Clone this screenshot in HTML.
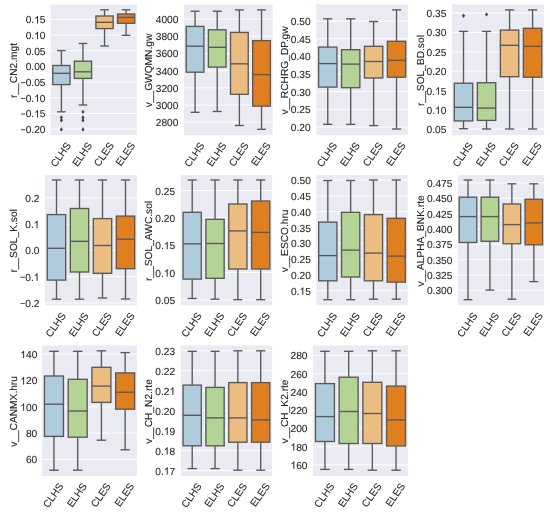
<!DOCTYPE html>
<html><head><meta charset="utf-8"><style>
html,body{margin:0;padding:0;background:#fff;}
body{width:550px;height:516px;overflow:hidden;}
svg{display:block;}
#w{width:550px;height:516px;will-change:transform;}
.o{fill:#262626;stroke:#262626;stroke-width:0.1px;}
.t{font-family:"Liberation Sans",sans-serif;font-size:10.2px;fill:#262626;stroke:#262626;stroke-width:0.1px;text-rendering:geometricPrecision;}
</style></head><body><div id="w">
<svg width="550" height="516" viewBox="0 0 550 516">
<g>
<rect x="0" y="0" width="550" height="516" fill="#ffffff"/>
<rect x="50.6" y="4.4" width="86.3" height="130.8" fill="#EAEAF2"/>
<line x1="50.6" x2="136.9" y1="19.4" y2="19.4" stroke="#fff" stroke-width="1.0"/>
<line x1="50.6" x2="136.9" y1="35.07" y2="35.07" stroke="#fff" stroke-width="1.0"/>
<line x1="50.6" x2="136.9" y1="50.74" y2="50.74" stroke="#fff" stroke-width="1.0"/>
<line x1="50.6" x2="136.9" y1="66.41" y2="66.41" stroke="#fff" stroke-width="1.0"/>
<line x1="50.6" x2="136.9" y1="82.09" y2="82.09" stroke="#fff" stroke-width="1.0"/>
<line x1="50.6" x2="136.9" y1="97.76" y2="97.76" stroke="#fff" stroke-width="1.0"/>
<line x1="50.6" x2="136.9" y1="113.43" y2="113.43" stroke="#fff" stroke-width="1.0"/>
<line x1="50.6" x2="136.9" y1="129.1" y2="129.1" stroke="#fff" stroke-width="1.0"/>
<g stroke="#595959" stroke-width="1.35" fill="none"><line x1="61.39" x2="61.39" y1="50.6" y2="65.5"/><line x1="61.39" x2="61.39" y1="84.6" y2="111.8"/><line x1="57.07" x2="65.7" y1="50.6" y2="50.6"/><line x1="57.07" x2="65.7" y1="111.8" y2="111.8"/><rect x="52.76" y="65.5" width="17.26" height="19.1" fill="#aeccdb"/><line x1="52.76" x2="70.02" y1="73.3" y2="73.3"/><path d="M61.39 115.2L62.99 117.4L61.39 119.6L59.79 117.4Z" fill="#454545" stroke="none"/><path d="M61.39 118.1L62.99 120.3L61.39 122.5L59.79 120.3Z" fill="#454545" stroke="none"/><path d="M61.39 127.3L62.99 129.5L61.39 131.7L59.79 129.5Z" fill="#454545" stroke="none"/></g>
<g stroke="#595959" stroke-width="1.35" fill="none"><line x1="82.96" x2="82.96" y1="43.5" y2="61.2"/><line x1="82.96" x2="82.96" y1="78.4" y2="105"/><line x1="78.65" x2="87.28" y1="43.5" y2="43.5"/><line x1="78.65" x2="87.28" y1="105" y2="105"/><rect x="74.33" y="61.2" width="17.26" height="17.2" fill="#b3d495"/><line x1="74.33" x2="91.59" y1="71.8" y2="71.8"/><path d="M82.96 109.7L84.56 111.9L82.96 114.1L81.36 111.9Z" fill="#454545" stroke="none"/><path d="M82.96 115.2L84.56 117.4L82.96 119.6L81.36 117.4Z" fill="#454545" stroke="none"/><path d="M82.96 118.1L84.56 120.3L82.96 122.5L81.36 120.3Z" fill="#454545" stroke="none"/><path d="M82.96 127.3L84.56 129.5L82.96 131.7L81.36 129.5Z" fill="#454545" stroke="none"/></g>
<g stroke="#595959" stroke-width="1.35" fill="none"><line x1="104.54" x2="104.54" y1="9.8" y2="16"/><line x1="104.54" x2="104.54" y1="28.6" y2="46"/><line x1="100.22" x2="108.85" y1="9.8" y2="9.8"/><line x1="100.22" x2="108.85" y1="46" y2="46"/><rect x="95.91" y="16" width="17.26" height="12.6" fill="#ebbd81"/><line x1="95.91" x2="113.17" y1="22.3" y2="22.3"/></g>
<g stroke="#595959" stroke-width="1.35" fill="none"><line x1="126.11" x2="126.11" y1="9.8" y2="14"/><line x1="126.11" x2="126.11" y1="23.3" y2="35.3"/><line x1="121.8" x2="130.43" y1="9.8" y2="9.8"/><line x1="121.8" x2="130.43" y1="35.3" y2="35.3"/><rect x="117.48" y="14" width="17.26" height="9.3" fill="#df7f20"/><line x1="117.48" x2="134.74" y1="17.4" y2="17.4"/></g>
<text x="45.5" y="23.4" text-anchor="end" class="t">0. 5</text>
<path d="M37.95 23.4L37.95 16.1L37.23 16.1L36.94 16.73L36.55 17.11L36.01 17.56L35.27 17.91L35.27 18.77L35.8 18.54L36.35 18.22L36.73 18L37.06 17.69L37.06 23.4Z" class="o"/>
<text x="45.5" y="39.07" text-anchor="end" class="t">0. 0</text>
<path d="M37.95 39.07L37.95 31.77L37.23 31.77L36.94 32.4L36.55 32.79L36.01 33.23L35.27 33.58L35.27 34.44L35.8 34.22L36.35 33.89L36.73 33.67L37.06 33.36L37.06 39.07Z" class="o"/>
<text x="45.5" y="54.74" text-anchor="end" class="t">0.05</text>
<text x="45.5" y="70.41" text-anchor="end" class="t">0.00</text>
<rect x="21.02" y="82.33" width="4.28" height="0.72" class="o"/>
<text x="45.5" y="86.09" text-anchor="end" class="t">0.05</text>
<rect x="21.02" y="98" width="4.28" height="0.72" class="o"/>
<text x="45.5" y="101.76" text-anchor="end" class="t">0. 0</text>
<path d="M37.95 101.76L37.95 94.46L37.23 94.46L36.94 95.08L36.55 95.47L36.01 95.92L35.27 96.26L35.27 97.13L35.8 96.9L36.35 96.58L36.73 96.35L37.06 96.04L37.06 101.76Z" class="o"/>
<rect x="21.02" y="113.67" width="4.28" height="0.72" class="o"/>
<text x="45.5" y="117.43" text-anchor="end" class="t">0. 5</text>
<path d="M37.95 117.43L37.95 110.13L37.23 110.13L36.94 110.75L36.55 111.14L36.01 111.59L35.27 111.94L35.27 112.8L35.8 112.57L36.35 112.25L36.73 112.02L37.06 111.72L37.06 117.43Z" class="o"/>
<rect x="21.02" y="129.35" width="4.28" height="0.72" class="o"/>
<text x="45.5" y="133.1" text-anchor="end" class="t">0.20</text>
<text x="0" y="0" transform="translate(16.74 70.5) rotate(-90)" text-anchor="middle" class="t">r__CN2.mgt</text>
<text x="0" y="2.6" transform="translate(61.39 155.06) rotate(-55)" text-anchor="middle" class="t">CLHS</text>
<text x="0" y="2.6" transform="translate(82.96 154.83) rotate(-55)" text-anchor="middle" class="t">ELHS</text>
<text x="0" y="2.6" transform="translate(104.54 154.83) rotate(-55)" text-anchor="middle" class="t">CLES</text>
<text x="0" y="2.6" transform="translate(126.11 154.6) rotate(-55)" text-anchor="middle" class="t">ELES</text>
<rect x="184" y="4.4" width="88.6" height="130.8" fill="#EAEAF2"/>
<line x1="184" x2="272.6" y1="19.1" y2="19.1" stroke="#fff" stroke-width="1.0"/>
<line x1="184" x2="272.6" y1="36.28" y2="36.28" stroke="#fff" stroke-width="1.0"/>
<line x1="184" x2="272.6" y1="53.47" y2="53.47" stroke="#fff" stroke-width="1.0"/>
<line x1="184" x2="272.6" y1="70.65" y2="70.65" stroke="#fff" stroke-width="1.0"/>
<line x1="184" x2="272.6" y1="87.83" y2="87.83" stroke="#fff" stroke-width="1.0"/>
<line x1="184" x2="272.6" y1="105.02" y2="105.02" stroke="#fff" stroke-width="1.0"/>
<line x1="184" x2="272.6" y1="122.2" y2="122.2" stroke="#fff" stroke-width="1.0"/>
<g stroke="#595959" stroke-width="1.35" fill="none"><line x1="195.07" x2="195.07" y1="11.2" y2="26.4"/><line x1="195.07" x2="195.07" y1="72.2" y2="112.3"/><line x1="190.64" x2="199.5" y1="11.2" y2="11.2"/><line x1="190.64" x2="199.5" y1="112.3" y2="112.3"/><rect x="186.21" y="26.4" width="17.72" height="45.8" fill="#aeccdb"/><line x1="186.21" x2="203.94" y1="46.2" y2="46.2"/></g>
<g stroke="#595959" stroke-width="1.35" fill="none"><line x1="217.23" x2="217.23" y1="11.2" y2="29.8"/><line x1="217.23" x2="217.23" y1="67.1" y2="111.5"/><line x1="212.8" x2="221.66" y1="11.2" y2="11.2"/><line x1="212.8" x2="221.66" y1="111.5" y2="111.5"/><rect x="208.37" y="29.8" width="17.72" height="37.3" fill="#b3d495"/><line x1="208.37" x2="226.09" y1="47.3" y2="47.3"/></g>
<g stroke="#595959" stroke-width="1.35" fill="none"><line x1="239.38" x2="239.38" y1="9.9" y2="32.4"/><line x1="239.38" x2="239.38" y1="94.3" y2="125.5"/><line x1="234.94" x2="243.81" y1="9.9" y2="9.9"/><line x1="234.94" x2="243.81" y1="125.5" y2="125.5"/><rect x="230.51" y="32.4" width="17.72" height="61.9" fill="#ebbd81"/><line x1="230.51" x2="248.24" y1="63.8" y2="63.8"/></g>
<g stroke="#595959" stroke-width="1.35" fill="none"><line x1="261.53" x2="261.53" y1="9.9" y2="40.6"/><line x1="261.53" x2="261.53" y1="106.1" y2="129.3"/><line x1="257.1" x2="265.96" y1="9.9" y2="9.9"/><line x1="257.1" x2="265.96" y1="129.3" y2="129.3"/><rect x="252.67" y="40.6" width="17.72" height="65.5" fill="#df7f20"/><line x1="252.67" x2="270.39" y1="74.6" y2="74.6"/></g>
<text x="178.4" y="23.1" text-anchor="end" class="t">4000</text>
<text x="178.4" y="40.28" text-anchor="end" class="t">3800</text>
<text x="178.4" y="57.47" text-anchor="end" class="t">3600</text>
<text x="178.4" y="74.65" text-anchor="end" class="t">3400</text>
<text x="178.4" y="91.83" text-anchor="end" class="t">3200</text>
<text x="178.4" y="109.02" text-anchor="end" class="t">3000</text>
<text x="178.4" y="126.2" text-anchor="end" class="t">2800</text>
<text x="0" y="0" transform="translate(151.94 70.5) rotate(-90)" text-anchor="middle" class="t">v__GWQMN.gw</text>
<text x="0" y="2.6" transform="translate(195.07 155.06) rotate(-55)" text-anchor="middle" class="t">CLHS</text>
<text x="0" y="2.6" transform="translate(217.23 154.83) rotate(-55)" text-anchor="middle" class="t">ELHS</text>
<text x="0" y="2.6" transform="translate(239.38 154.83) rotate(-55)" text-anchor="middle" class="t">CLES</text>
<text x="0" y="2.6" transform="translate(261.53 154.6) rotate(-55)" text-anchor="middle" class="t">ELES</text>
<rect x="316.3" y="4.4" width="91.7" height="130.8" fill="#EAEAF2"/>
<line x1="316.3" x2="408" y1="21.1" y2="21.1" stroke="#fff" stroke-width="1.0"/>
<line x1="316.3" x2="408" y1="38.75" y2="38.75" stroke="#fff" stroke-width="1.0"/>
<line x1="316.3" x2="408" y1="56.4" y2="56.4" stroke="#fff" stroke-width="1.0"/>
<line x1="316.3" x2="408" y1="74.05" y2="74.05" stroke="#fff" stroke-width="1.0"/>
<line x1="316.3" x2="408" y1="91.7" y2="91.7" stroke="#fff" stroke-width="1.0"/>
<line x1="316.3" x2="408" y1="109.35" y2="109.35" stroke="#fff" stroke-width="1.0"/>
<line x1="316.3" x2="408" y1="127" y2="127" stroke="#fff" stroke-width="1.0"/>
<g stroke="#595959" stroke-width="1.35" fill="none"><line x1="327.76" x2="327.76" y1="18.8" y2="47.1"/><line x1="327.76" x2="327.76" y1="87.1" y2="124.3"/><line x1="323.18" x2="332.35" y1="18.8" y2="18.8"/><line x1="323.18" x2="332.35" y1="124.3" y2="124.3"/><rect x="318.59" y="47.1" width="18.34" height="40" fill="#aeccdb"/><line x1="318.59" x2="336.93" y1="63.6" y2="63.6"/></g>
<g stroke="#595959" stroke-width="1.35" fill="none"><line x1="350.69" x2="350.69" y1="18.8" y2="49.7"/><line x1="350.69" x2="350.69" y1="87.7" y2="124.4"/><line x1="346.1" x2="355.27" y1="18.8" y2="18.8"/><line x1="346.1" x2="355.27" y1="124.4" y2="124.4"/><rect x="341.52" y="49.7" width="18.34" height="38" fill="#b3d495"/><line x1="341.52" x2="359.86" y1="64.1" y2="64.1"/></g>
<g stroke="#595959" stroke-width="1.35" fill="none"><line x1="373.61" x2="373.61" y1="21.5" y2="46.3"/><line x1="373.61" x2="373.61" y1="78" y2="125.6"/><line x1="369.03" x2="378.2" y1="21.5" y2="21.5"/><line x1="369.03" x2="378.2" y1="125.6" y2="125.6"/><rect x="364.44" y="46.3" width="18.34" height="31.7" fill="#ebbd81"/><line x1="364.44" x2="382.78" y1="61.5" y2="61.5"/></g>
<g stroke="#595959" stroke-width="1.35" fill="none"><line x1="396.54" x2="396.54" y1="9.9" y2="41.3"/><line x1="396.54" x2="396.54" y1="77.2" y2="129"/><line x1="391.95" x2="401.12" y1="9.9" y2="9.9"/><line x1="391.95" x2="401.12" y1="129" y2="129"/><rect x="387.37" y="41.3" width="18.34" height="35.9" fill="#df7f20"/><line x1="387.37" x2="405.71" y1="60.4" y2="60.4"/></g>
<text x="310.7" y="25.1" text-anchor="end" class="t">0.50</text>
<text x="310.7" y="42.75" text-anchor="end" class="t">0.45</text>
<text x="310.7" y="60.4" text-anchor="end" class="t">0.40</text>
<text x="310.7" y="78.05" text-anchor="end" class="t">0.35</text>
<text x="310.7" y="95.7" text-anchor="end" class="t">0.30</text>
<text x="310.7" y="113.35" text-anchor="end" class="t">0.25</text>
<text x="310.7" y="131" text-anchor="end" class="t">0.20</text>
<text x="0" y="0" transform="translate(287.64 70.5) rotate(-90)" text-anchor="middle" class="t">v__RCHRG_DP.gw</text>
<text x="0" y="2.6" transform="translate(327.76 155.06) rotate(-55)" text-anchor="middle" class="t">CLHS</text>
<text x="0" y="2.6" transform="translate(350.69 154.83) rotate(-55)" text-anchor="middle" class="t">ELHS</text>
<text x="0" y="2.6" transform="translate(373.61 154.83) rotate(-55)" text-anchor="middle" class="t">CLES</text>
<text x="0" y="2.6" transform="translate(396.54 154.6) rotate(-55)" text-anchor="middle" class="t">ELES</text>
<rect x="452" y="4.4" width="92.1" height="130.8" fill="#EAEAF2"/>
<line x1="452" x2="544.1" y1="13.1" y2="13.1" stroke="#fff" stroke-width="1.0"/>
<line x1="452" x2="544.1" y1="32.45" y2="32.45" stroke="#fff" stroke-width="1.0"/>
<line x1="452" x2="544.1" y1="51.8" y2="51.8" stroke="#fff" stroke-width="1.0"/>
<line x1="452" x2="544.1" y1="71.15" y2="71.15" stroke="#fff" stroke-width="1.0"/>
<line x1="452" x2="544.1" y1="90.5" y2="90.5" stroke="#fff" stroke-width="1.0"/>
<line x1="452" x2="544.1" y1="109.85" y2="109.85" stroke="#fff" stroke-width="1.0"/>
<line x1="452" x2="544.1" y1="129.2" y2="129.2" stroke="#fff" stroke-width="1.0"/>
<g stroke="#595959" stroke-width="1.35" fill="none"><line x1="463.51" x2="463.51" y1="31.4" y2="83.2"/><line x1="463.51" x2="463.51" y1="120.9" y2="128.7"/><line x1="458.91" x2="468.12" y1="31.4" y2="31.4"/><line x1="458.91" x2="468.12" y1="128.7" y2="128.7"/><rect x="454.3" y="83.2" width="18.42" height="37.7" fill="#aeccdb"/><line x1="454.3" x2="472.72" y1="107.3" y2="107.3"/><path d="M463.51 13.5L465.11 15.7L463.51 17.9L461.91 15.7Z" fill="#454545" stroke="none"/></g>
<g stroke="#595959" stroke-width="1.35" fill="none"><line x1="486.54" x2="486.54" y1="31.4" y2="82.7"/><line x1="486.54" x2="486.54" y1="120.4" y2="129"/><line x1="481.93" x2="491.14" y1="31.4" y2="31.4"/><line x1="481.93" x2="491.14" y1="129" y2="129"/><rect x="477.33" y="82.7" width="18.42" height="37.7" fill="#b3d495"/><line x1="477.33" x2="495.75" y1="108.1" y2="108.1"/><path d="M486.54 12.2L488.14 14.4L486.54 16.6L484.94 14.4Z" fill="#454545" stroke="none"/></g>
<g stroke="#595959" stroke-width="1.35" fill="none"><line x1="509.56" x2="509.56" y1="9.9" y2="30.1"/><line x1="509.56" x2="509.56" y1="76.7" y2="129"/><line x1="504.96" x2="514.17" y1="9.9" y2="9.9"/><line x1="504.96" x2="514.17" y1="129" y2="129"/><rect x="500.35" y="30.1" width="18.42" height="46.6" fill="#ebbd81"/><line x1="500.35" x2="518.77" y1="45.3" y2="45.3"/></g>
<g stroke="#595959" stroke-width="1.35" fill="none"><line x1="532.59" x2="532.59" y1="9.9" y2="28.3"/><line x1="532.59" x2="532.59" y1="77.2" y2="129"/><line x1="527.98" x2="537.19" y1="9.9" y2="9.9"/><line x1="527.98" x2="537.19" y1="129" y2="129"/><rect x="523.38" y="28.3" width="18.42" height="48.9" fill="#df7f20"/><line x1="523.38" x2="541.8" y1="46.3" y2="46.3"/></g>
<text x="446.4" y="17.1" text-anchor="end" class="t">0.35</text>
<text x="446.4" y="36.45" text-anchor="end" class="t">0.30</text>
<text x="446.4" y="55.8" text-anchor="end" class="t">0.25</text>
<text x="446.4" y="75.15" text-anchor="end" class="t">0.20</text>
<text x="446.4" y="94.5" text-anchor="end" class="t">0. 5</text>
<path d="M438.85 94.5L438.85 87.2L438.13 87.2L437.84 87.83L437.45 88.21L436.91 88.66L436.17 89.01L436.17 89.87L436.7 89.64L437.25 89.32L437.63 89.1L437.96 88.79L437.96 94.5Z" class="o"/>
<text x="446.4" y="113.85" text-anchor="end" class="t">0. 0</text>
<path d="M438.85 113.85L438.85 106.55L438.13 106.55L437.84 107.18L437.45 107.56L436.91 108.01L436.17 108.36L436.17 109.22L436.7 108.99L437.25 108.67L437.63 108.45L437.96 108.14L437.96 113.85Z" class="o"/>
<text x="446.4" y="133.2" text-anchor="end" class="t">0.05</text>
<text x="0" y="0" transform="translate(423.54 70.5) rotate(-90)" text-anchor="middle" class="t">r__SOL_BD.sol</text>
<text x="0" y="2.6" transform="translate(463.51 155.06) rotate(-55)" text-anchor="middle" class="t">CLHS</text>
<text x="0" y="2.6" transform="translate(486.54 154.83) rotate(-55)" text-anchor="middle" class="t">ELHS</text>
<text x="0" y="2.6" transform="translate(509.56 154.83) rotate(-55)" text-anchor="middle" class="t">CLES</text>
<text x="0" y="2.6" transform="translate(532.59 154.6) rotate(-55)" text-anchor="middle" class="t">ELES</text>
<rect x="45" y="175" width="92" height="130.4" fill="#EAEAF2"/>
<line x1="45" x2="137" y1="197.9" y2="197.9" stroke="#fff" stroke-width="1.0"/>
<line x1="45" x2="137" y1="224.15" y2="224.15" stroke="#fff" stroke-width="1.0"/>
<line x1="45" x2="137" y1="250.4" y2="250.4" stroke="#fff" stroke-width="1.0"/>
<line x1="45" x2="137" y1="276.65" y2="276.65" stroke="#fff" stroke-width="1.0"/>
<line x1="45" x2="137" y1="302.9" y2="302.9" stroke="#fff" stroke-width="1.0"/>
<g stroke="#595959" stroke-width="1.35" fill="none"><line x1="56.5" x2="56.5" y1="180" y2="214.6"/><line x1="56.5" x2="56.5" y1="280.1" y2="299.2"/><line x1="51.9" x2="61.1" y1="180" y2="180"/><line x1="51.9" x2="61.1" y1="299.2" y2="299.2"/><rect x="47.3" y="214.6" width="18.4" height="65.5" fill="#aeccdb"/><line x1="47.3" x2="65.7" y1="248.3" y2="248.3"/></g>
<g stroke="#595959" stroke-width="1.35" fill="none"><line x1="79.5" x2="79.5" y1="180" y2="208.5"/><line x1="79.5" x2="79.5" y1="272" y2="299.2"/><line x1="74.9" x2="84.1" y1="180" y2="180"/><line x1="74.9" x2="84.1" y1="299.2" y2="299.2"/><rect x="70.3" y="208.5" width="18.4" height="63.5" fill="#b3d495"/><line x1="70.3" x2="88.7" y1="241.3" y2="241.3"/></g>
<g stroke="#595959" stroke-width="1.35" fill="none"><line x1="102.5" x2="102.5" y1="180" y2="218.6"/><line x1="102.5" x2="102.5" y1="273.3" y2="298"/><line x1="97.9" x2="107.1" y1="180" y2="180"/><line x1="97.9" x2="107.1" y1="298" y2="298"/><rect x="93.3" y="218.6" width="18.4" height="54.7" fill="#ebbd81"/><line x1="93.3" x2="111.7" y1="245.5" y2="245.5"/></g>
<g stroke="#595959" stroke-width="1.35" fill="none"><line x1="125.5" x2="125.5" y1="180" y2="216.1"/><line x1="125.5" x2="125.5" y1="268.7" y2="299"/><line x1="120.9" x2="130.1" y1="180" y2="180"/><line x1="120.9" x2="130.1" y1="299" y2="299"/><rect x="116.3" y="216.1" width="18.4" height="52.6" fill="#df7f20"/><line x1="116.3" x2="134.7" y1="239.2" y2="239.2"/></g>
<text x="39.4" y="201.9" text-anchor="end" class="t">0.2</text>
<text x="39.4" y="228.15" text-anchor="end" class="t">0. </text>
<path d="M37.53 228.15L37.53 220.85L36.8 220.85L36.52 221.48L36.12 221.86L35.58 222.31L34.84 222.66L34.84 223.52L35.37 223.29L35.92 222.97L36.31 222.75L36.63 222.44L36.63 228.15Z" class="o"/>
<text x="39.4" y="254.4" text-anchor="end" class="t">0.0</text>
<rect x="20.59" y="276.9" width="4.28" height="0.72" class="o"/>
<text x="39.4" y="280.65" text-anchor="end" class="t">0. </text>
<path d="M37.53 280.65L37.53 273.35L36.8 273.35L36.52 273.98L36.12 274.36L35.58 274.81L34.84 275.16L34.84 276.02L35.37 275.79L35.92 275.47L36.31 275.25L36.63 274.94L36.63 280.65Z" class="o"/>
<rect x="20.59" y="303.15" width="4.28" height="0.72" class="o"/>
<text x="39.4" y="306.9" text-anchor="end" class="t">0.2</text>
<text x="0" y="0" transform="translate(16.74 240.9) rotate(-90)" text-anchor="middle" class="t">r__SOL_K.sol</text>
<text x="0" y="2.6" transform="translate(56.5 325.26) rotate(-55)" text-anchor="middle" class="t">CLHS</text>
<text x="0" y="2.6" transform="translate(79.5 325.03) rotate(-55)" text-anchor="middle" class="t">ELHS</text>
<text x="0" y="2.6" transform="translate(102.5 325.03) rotate(-55)" text-anchor="middle" class="t">CLES</text>
<text x="0" y="2.6" transform="translate(125.5 324.8) rotate(-55)" text-anchor="middle" class="t">ELES</text>
<rect x="180.8" y="175" width="91.3" height="130.4" fill="#EAEAF2"/>
<line x1="180.8" x2="272.1" y1="190.5" y2="190.5" stroke="#fff" stroke-width="1.0"/>
<line x1="180.8" x2="272.1" y1="217.85" y2="217.85" stroke="#fff" stroke-width="1.0"/>
<line x1="180.8" x2="272.1" y1="245.2" y2="245.2" stroke="#fff" stroke-width="1.0"/>
<line x1="180.8" x2="272.1" y1="272.55" y2="272.55" stroke="#fff" stroke-width="1.0"/>
<line x1="180.8" x2="272.1" y1="299.9" y2="299.9" stroke="#fff" stroke-width="1.0"/>
<g stroke="#595959" stroke-width="1.35" fill="none"><line x1="192.21" x2="192.21" y1="180" y2="212.3"/><line x1="192.21" x2="192.21" y1="279.1" y2="298.5"/><line x1="187.65" x2="196.78" y1="180" y2="180"/><line x1="187.65" x2="196.78" y1="298.5" y2="298.5"/><rect x="183.08" y="212.3" width="18.26" height="66.8" fill="#aeccdb"/><line x1="183.08" x2="201.34" y1="243.8" y2="243.8"/></g>
<g stroke="#595959" stroke-width="1.35" fill="none"><line x1="215.04" x2="215.04" y1="180" y2="219.3"/><line x1="215.04" x2="215.04" y1="278.3" y2="299.2"/><line x1="210.47" x2="219.6" y1="180" y2="180"/><line x1="210.47" x2="219.6" y1="299.2" y2="299.2"/><rect x="205.91" y="219.3" width="18.26" height="59" fill="#b3d495"/><line x1="205.91" x2="224.17" y1="243.5" y2="243.5"/></g>
<g stroke="#595959" stroke-width="1.35" fill="none"><line x1="237.86" x2="237.86" y1="180" y2="204"/><line x1="237.86" x2="237.86" y1="269" y2="299.7"/><line x1="233.3" x2="242.43" y1="180" y2="180"/><line x1="233.3" x2="242.43" y1="299.7" y2="299.7"/><rect x="228.73" y="204" width="18.26" height="65" fill="#ebbd81"/><line x1="228.73" x2="246.99" y1="230.9" y2="230.9"/></g>
<g stroke="#595959" stroke-width="1.35" fill="none"><line x1="260.69" x2="260.69" y1="180" y2="201"/><line x1="260.69" x2="260.69" y1="269" y2="299.7"/><line x1="256.12" x2="265.25" y1="180" y2="180"/><line x1="256.12" x2="265.25" y1="299.7" y2="299.7"/><rect x="251.56" y="201" width="18.26" height="68" fill="#df7f20"/><line x1="251.56" x2="269.82" y1="232.4" y2="232.4"/></g>
<text x="175.2" y="194.5" text-anchor="end" class="t">0.25</text>
<text x="175.2" y="221.85" text-anchor="end" class="t">0.20</text>
<text x="175.2" y="249.2" text-anchor="end" class="t">0. 5</text>
<path d="M167.65 249.2L167.65 241.9L166.93 241.9L166.64 242.53L166.25 242.91L165.71 243.36L164.97 243.71L164.97 244.57L165.5 244.34L166.05 244.02L166.43 243.8L166.76 243.49L166.76 249.2Z" class="o"/>
<text x="175.2" y="276.55" text-anchor="end" class="t">0. 0</text>
<path d="M167.65 276.55L167.65 269.25L166.93 269.25L166.64 269.88L166.25 270.26L165.71 270.71L164.97 271.06L164.97 271.92L165.5 271.69L166.05 271.37L166.43 271.15L166.76 270.84L166.76 276.55Z" class="o"/>
<text x="175.2" y="303.9" text-anchor="end" class="t">0.05</text>
<text x="0" y="0" transform="translate(151.94 240.9) rotate(-90)" text-anchor="middle" class="t">r__SOL_AWC.sol</text>
<text x="0" y="2.6" transform="translate(192.21 325.26) rotate(-55)" text-anchor="middle" class="t">CLHS</text>
<text x="0" y="2.6" transform="translate(215.04 325.03) rotate(-55)" text-anchor="middle" class="t">ELHS</text>
<text x="0" y="2.6" transform="translate(237.86 325.03) rotate(-55)" text-anchor="middle" class="t">CLES</text>
<text x="0" y="2.6" transform="translate(260.69 324.8) rotate(-55)" text-anchor="middle" class="t">ELES</text>
<rect x="316.4" y="175" width="91.3" height="130.4" fill="#EAEAF2"/>
<line x1="316.4" x2="407.7" y1="180.2" y2="180.2" stroke="#fff" stroke-width="1.0"/>
<line x1="316.4" x2="407.7" y1="195.99" y2="195.99" stroke="#fff" stroke-width="1.0"/>
<line x1="316.4" x2="407.7" y1="211.77" y2="211.77" stroke="#fff" stroke-width="1.0"/>
<line x1="316.4" x2="407.7" y1="227.56" y2="227.56" stroke="#fff" stroke-width="1.0"/>
<line x1="316.4" x2="407.7" y1="243.34" y2="243.34" stroke="#fff" stroke-width="1.0"/>
<line x1="316.4" x2="407.7" y1="259.13" y2="259.13" stroke="#fff" stroke-width="1.0"/>
<line x1="316.4" x2="407.7" y1="274.91" y2="274.91" stroke="#fff" stroke-width="1.0"/>
<line x1="316.4" x2="407.7" y1="290.7" y2="290.7" stroke="#fff" stroke-width="1.0"/>
<g stroke="#595959" stroke-width="1.35" fill="none"><line x1="327.81" x2="327.81" y1="180.5" y2="222.1"/><line x1="327.81" x2="327.81" y1="280.8" y2="299.7"/><line x1="323.25" x2="332.38" y1="180.5" y2="180.5"/><line x1="323.25" x2="332.38" y1="299.7" y2="299.7"/><rect x="318.68" y="222.1" width="18.26" height="58.7" fill="#aeccdb"/><line x1="318.68" x2="336.94" y1="255.6" y2="255.6"/></g>
<g stroke="#595959" stroke-width="1.35" fill="none"><line x1="350.64" x2="350.64" y1="180.5" y2="212.3"/><line x1="350.64" x2="350.64" y1="277" y2="299.7"/><line x1="346.07" x2="355.2" y1="180.5" y2="180.5"/><line x1="346.07" x2="355.2" y1="299.7" y2="299.7"/><rect x="341.51" y="212.3" width="18.26" height="64.7" fill="#b3d495"/><line x1="341.51" x2="359.77" y1="250.1" y2="250.1"/></g>
<g stroke="#595959" stroke-width="1.35" fill="none"><line x1="373.46" x2="373.46" y1="180" y2="214.6"/><line x1="373.46" x2="373.46" y1="280.8" y2="299.2"/><line x1="368.9" x2="378.03" y1="180" y2="180"/><line x1="368.9" x2="378.03" y1="299.2" y2="299.2"/><rect x="364.33" y="214.6" width="18.26" height="66.2" fill="#ebbd81"/><line x1="364.33" x2="382.59" y1="253.1" y2="253.1"/></g>
<g stroke="#595959" stroke-width="1.35" fill="none"><line x1="396.29" x2="396.29" y1="180" y2="218.3"/><line x1="396.29" x2="396.29" y1="282.1" y2="299.2"/><line x1="391.72" x2="400.85" y1="180" y2="180"/><line x1="391.72" x2="400.85" y1="299.2" y2="299.2"/><rect x="387.16" y="218.3" width="18.26" height="63.8" fill="#df7f20"/><line x1="387.16" x2="405.42" y1="256.1" y2="256.1"/></g>
<text x="310.8" y="184.2" text-anchor="end" class="t">0.50</text>
<text x="310.8" y="199.99" text-anchor="end" class="t">0.45</text>
<text x="310.8" y="215.77" text-anchor="end" class="t">0.40</text>
<text x="310.8" y="231.56" text-anchor="end" class="t">0.35</text>
<text x="310.8" y="247.34" text-anchor="end" class="t">0.30</text>
<text x="310.8" y="263.13" text-anchor="end" class="t">0.25</text>
<text x="310.8" y="278.91" text-anchor="end" class="t">0.20</text>
<text x="310.8" y="294.7" text-anchor="end" class="t">0. 5</text>
<path d="M303.25 294.7L303.25 287.4L302.53 287.4L302.24 288.03L301.85 288.41L301.31 288.86L300.57 289.21L300.57 290.07L301.1 289.84L301.65 289.52L302.03 289.3L302.36 288.99L302.36 294.7Z" class="o"/>
<text x="0" y="0" transform="translate(287.64 240.9) rotate(-90)" text-anchor="middle" class="t">v__ESCO.hru</text>
<text x="0" y="2.6" transform="translate(327.81 325.26) rotate(-55)" text-anchor="middle" class="t">CLHS</text>
<text x="0" y="2.6" transform="translate(350.64 325.03) rotate(-55)" text-anchor="middle" class="t">ELHS</text>
<text x="0" y="2.6" transform="translate(373.46 325.03) rotate(-55)" text-anchor="middle" class="t">CLES</text>
<text x="0" y="2.6" transform="translate(396.29 324.8) rotate(-55)" text-anchor="middle" class="t">ELES</text>
<rect x="458" y="175" width="86.1" height="130.4" fill="#EAEAF2"/>
<line x1="458" x2="544.1" y1="182.9" y2="182.9" stroke="#fff" stroke-width="1.0"/>
<line x1="458" x2="544.1" y1="198.26" y2="198.26" stroke="#fff" stroke-width="1.0"/>
<line x1="458" x2="544.1" y1="213.61" y2="213.61" stroke="#fff" stroke-width="1.0"/>
<line x1="458" x2="544.1" y1="228.97" y2="228.97" stroke="#fff" stroke-width="1.0"/>
<line x1="458" x2="544.1" y1="244.33" y2="244.33" stroke="#fff" stroke-width="1.0"/>
<line x1="458" x2="544.1" y1="259.69" y2="259.69" stroke="#fff" stroke-width="1.0"/>
<line x1="458" x2="544.1" y1="275.04" y2="275.04" stroke="#fff" stroke-width="1.0"/>
<line x1="458" x2="544.1" y1="290.4" y2="290.4" stroke="#fff" stroke-width="1.0"/>
<g stroke="#595959" stroke-width="1.35" fill="none"><line x1="467.98" x2="467.98" y1="180" y2="197.2"/><line x1="467.98" x2="467.98" y1="242.5" y2="299.7"/><line x1="463.59" x2="472.37" y1="180" y2="180"/><line x1="463.59" x2="472.37" y1="299.7" y2="299.7"/><rect x="459.2" y="197.2" width="17.56" height="45.3" fill="#aeccdb"/><line x1="459.2" x2="476.75" y1="216.6" y2="216.6"/></g>
<g stroke="#595959" stroke-width="1.35" fill="none"><line x1="489.92" x2="489.92" y1="180" y2="197.2"/><line x1="489.92" x2="489.92" y1="241.3" y2="290.1"/><line x1="485.53" x2="494.31" y1="180" y2="180"/><line x1="485.53" x2="494.31" y1="290.1" y2="290.1"/><rect x="481.14" y="197.2" width="17.56" height="44.1" fill="#b3d495"/><line x1="481.14" x2="498.7" y1="216.6" y2="216.6"/></g>
<g stroke="#595959" stroke-width="1.35" fill="none"><line x1="511.88" x2="511.88" y1="183.8" y2="204"/><line x1="511.88" x2="511.88" y1="243.8" y2="299.2"/><line x1="507.49" x2="516.26" y1="183.8" y2="183.8"/><line x1="507.49" x2="516.26" y1="299.2" y2="299.2"/><rect x="503.1" y="204" width="17.56" height="39.8" fill="#ebbd81"/><line x1="503.1" x2="520.65" y1="224.6" y2="224.6"/></g>
<g stroke="#595959" stroke-width="1.35" fill="none"><line x1="533.82" x2="533.82" y1="183.8" y2="199.2"/><line x1="533.82" x2="533.82" y1="244.8" y2="281.6"/><line x1="529.43" x2="538.21" y1="183.8" y2="183.8"/><line x1="529.43" x2="538.21" y1="281.6" y2="281.6"/><rect x="525.04" y="199.2" width="17.56" height="45.6" fill="#df7f20"/><line x1="525.04" x2="542.6" y1="222.9" y2="222.9"/></g>
<text x="452.4" y="186.9" text-anchor="end" class="t">0.475</text>
<text x="452.4" y="202.26" text-anchor="end" class="t">0.450</text>
<text x="452.4" y="217.61" text-anchor="end" class="t">0.425</text>
<text x="452.4" y="232.97" text-anchor="end" class="t">0.400</text>
<text x="452.4" y="248.33" text-anchor="end" class="t">0.375</text>
<text x="452.4" y="263.69" text-anchor="end" class="t">0.350</text>
<text x="452.4" y="279.04" text-anchor="end" class="t">0.325</text>
<text x="452.4" y="294.4" text-anchor="end" class="t">0.300</text>
<text x="0" y="0" transform="translate(423.54 240.9) rotate(-90)" text-anchor="middle" class="t">v__ALPHA_BNK.rte</text>
<text x="0" y="2.6" transform="translate(467.98 325.26) rotate(-55)" text-anchor="middle" class="t">CLHS</text>
<text x="0" y="2.6" transform="translate(489.92 325.03) rotate(-55)" text-anchor="middle" class="t">ELHS</text>
<text x="0" y="2.6" transform="translate(511.88 325.03) rotate(-55)" text-anchor="middle" class="t">CLES</text>
<text x="0" y="2.6" transform="translate(533.82 324.8) rotate(-55)" text-anchor="middle" class="t">ELES</text>
<rect x="42.1" y="345.5" width="94.9" height="130.5" fill="#EAEAF2"/>
<line x1="42.1" x2="137" y1="354.1" y2="354.1" stroke="#fff" stroke-width="1.0"/>
<line x1="42.1" x2="137" y1="380.43" y2="380.43" stroke="#fff" stroke-width="1.0"/>
<line x1="42.1" x2="137" y1="406.75" y2="406.75" stroke="#fff" stroke-width="1.0"/>
<line x1="42.1" x2="137" y1="433.07" y2="433.07" stroke="#fff" stroke-width="1.0"/>
<line x1="42.1" x2="137" y1="459.4" y2="459.4" stroke="#fff" stroke-width="1.0"/>
<g stroke="#595959" stroke-width="1.35" fill="none"><line x1="53.96" x2="53.96" y1="351.3" y2="376"/><line x1="53.96" x2="53.96" y1="436.4" y2="470.2"/><line x1="49.22" x2="58.71" y1="351.3" y2="351.3"/><line x1="49.22" x2="58.71" y1="470.2" y2="470.2"/><rect x="44.47" y="376" width="18.98" height="60.4" fill="#aeccdb"/><line x1="44.47" x2="63.45" y1="404.2" y2="404.2"/></g>
<g stroke="#595959" stroke-width="1.35" fill="none"><line x1="77.69" x2="77.69" y1="351.3" y2="379.3"/><line x1="77.69" x2="77.69" y1="437.2" y2="470.2"/><line x1="72.94" x2="82.43" y1="351.3" y2="351.3"/><line x1="72.94" x2="82.43" y1="470.2" y2="470.2"/><rect x="68.2" y="379.3" width="18.98" height="57.9" fill="#b3d495"/><line x1="68.2" x2="87.18" y1="411" y2="411"/></g>
<g stroke="#595959" stroke-width="1.35" fill="none"><line x1="101.41" x2="101.41" y1="350.8" y2="367.3"/><line x1="101.41" x2="101.41" y1="402.4" y2="440.2"/><line x1="96.67" x2="106.16" y1="350.8" y2="350.8"/><line x1="96.67" x2="106.16" y1="440.2" y2="440.2"/><rect x="91.92" y="367.3" width="18.98" height="35.1" fill="#ebbd81"/><line x1="91.92" x2="110.9" y1="386.1" y2="386.1"/></g>
<g stroke="#595959" stroke-width="1.35" fill="none"><line x1="125.14" x2="125.14" y1="352.6" y2="372.9"/><line x1="125.14" x2="125.14" y1="409.2" y2="449.8"/><line x1="120.39" x2="129.88" y1="352.6" y2="352.6"/><line x1="120.39" x2="129.88" y1="449.8" y2="449.8"/><rect x="115.65" y="372.9" width="18.98" height="36.3" fill="#df7f20"/><line x1="115.65" x2="134.63" y1="392.2" y2="392.2"/></g>
<text x="37.3" y="358.1" text-anchor="end" class="t"> 40</text>
<path d="M24.08 358.1L24.08 350.8L23.35 350.8L23.07 351.43L22.68 351.81L22.13 352.26L21.39 352.61L21.39 353.47L21.93 353.24L22.47 352.92L22.86 352.7L23.19 352.39L23.19 358.1Z" class="o"/>
<text x="37.3" y="384.43" text-anchor="end" class="t"> 20</text>
<path d="M24.08 384.43L24.08 377.12L23.35 377.12L23.07 377.75L22.68 378.14L22.13 378.58L21.39 378.93L21.39 379.8L21.93 379.57L22.47 379.25L22.86 379.02L23.19 378.71L23.19 384.43Z" class="o"/>
<text x="37.3" y="410.75" text-anchor="end" class="t"> 00</text>
<path d="M24.08 410.75L24.08 403.45L23.35 403.45L23.07 404.08L22.68 404.46L22.13 404.91L21.39 405.26L21.39 406.12L21.93 405.89L22.47 405.57L22.86 405.35L23.19 405.04L23.19 410.75Z" class="o"/>
<text x="37.3" y="437.07" text-anchor="end" class="t">80</text>
<text x="37.3" y="463.4" text-anchor="end" class="t">60</text>
<text x="0" y="0" transform="translate(16.74 411.45) rotate(-90)" text-anchor="middle" class="t">v__CANMX.hru</text>
<text x="0" y="2.6" transform="translate(53.96 495.86) rotate(-55)" text-anchor="middle" class="t">CLHS</text>
<text x="0" y="2.6" transform="translate(77.69 495.63) rotate(-55)" text-anchor="middle" class="t">ELHS</text>
<text x="0" y="2.6" transform="translate(101.41 495.63) rotate(-55)" text-anchor="middle" class="t">CLES</text>
<text x="0" y="2.6" transform="translate(125.14 495.4) rotate(-55)" text-anchor="middle" class="t">ELES</text>
<rect x="180.8" y="345.5" width="91.3" height="130.5" fill="#EAEAF2"/>
<line x1="180.8" x2="272.1" y1="350.7" y2="350.7" stroke="#fff" stroke-width="1.0"/>
<line x1="180.8" x2="272.1" y1="370.68" y2="370.68" stroke="#fff" stroke-width="1.0"/>
<line x1="180.8" x2="272.1" y1="390.67" y2="390.67" stroke="#fff" stroke-width="1.0"/>
<line x1="180.8" x2="272.1" y1="410.65" y2="410.65" stroke="#fff" stroke-width="1.0"/>
<line x1="180.8" x2="272.1" y1="430.63" y2="430.63" stroke="#fff" stroke-width="1.0"/>
<line x1="180.8" x2="272.1" y1="450.62" y2="450.62" stroke="#fff" stroke-width="1.0"/>
<line x1="180.8" x2="272.1" y1="470.6" y2="470.6" stroke="#fff" stroke-width="1.0"/>
<g stroke="#595959" stroke-width="1.35" fill="none"><line x1="192.21" x2="192.21" y1="351.3" y2="385.1"/><line x1="192.21" x2="192.21" y1="445.8" y2="468.6"/><line x1="187.65" x2="196.78" y1="351.3" y2="351.3"/><line x1="187.65" x2="196.78" y1="468.6" y2="468.6"/><rect x="183.08" y="385.1" width="18.26" height="60.7" fill="#aeccdb"/><line x1="183.08" x2="201.34" y1="415.3" y2="415.3"/></g>
<g stroke="#595959" stroke-width="1.35" fill="none"><line x1="215.04" x2="215.04" y1="351.3" y2="387.4"/><line x1="215.04" x2="215.04" y1="445.8" y2="468.6"/><line x1="210.47" x2="219.6" y1="351.3" y2="351.3"/><line x1="210.47" x2="219.6" y1="468.6" y2="468.6"/><rect x="205.91" y="387.4" width="18.26" height="58.4" fill="#b3d495"/><line x1="205.91" x2="224.17" y1="417.9" y2="417.9"/></g>
<g stroke="#595959" stroke-width="1.35" fill="none"><line x1="237.86" x2="237.86" y1="350.8" y2="382.6"/><line x1="237.86" x2="237.86" y1="442.2" y2="470.2"/><line x1="233.3" x2="242.43" y1="350.8" y2="350.8"/><line x1="233.3" x2="242.43" y1="470.2" y2="470.2"/><rect x="228.73" y="382.6" width="18.26" height="59.6" fill="#ebbd81"/><line x1="228.73" x2="246.99" y1="417.9" y2="417.9"/></g>
<g stroke="#595959" stroke-width="1.35" fill="none"><line x1="260.69" x2="260.69" y1="350.8" y2="382.6"/><line x1="260.69" x2="260.69" y1="442.2" y2="470.2"/><line x1="256.12" x2="265.25" y1="350.8" y2="350.8"/><line x1="256.12" x2="265.25" y1="470.2" y2="470.2"/><rect x="251.56" y="382.6" width="18.26" height="59.6" fill="#df7f20"/><line x1="251.56" x2="269.82" y1="419.9" y2="419.9"/></g>
<text x="175.2" y="354.7" text-anchor="end" class="t">0.23</text>
<text x="175.2" y="374.68" text-anchor="end" class="t">0.22</text>
<text x="175.2" y="394.67" text-anchor="end" class="t">0.2 </text>
<path d="M173.33 394.67L173.33 387.37L172.6 387.37L172.32 387.99L171.92 388.38L171.38 388.82L170.64 389.17L170.64 390.04L171.17 389.81L171.72 389.49L172.11 389.26L172.43 388.95L172.43 394.67Z" class="o"/>
<text x="175.2" y="414.65" text-anchor="end" class="t">0.20</text>
<text x="175.2" y="434.63" text-anchor="end" class="t">0. 9</text>
<path d="M167.65 434.63L167.65 427.33L166.93 427.33L166.64 427.96L166.25 428.35L165.71 428.79L164.97 429.14L164.97 430.01L165.5 429.78L166.05 429.45L166.43 429.23L166.76 428.92L166.76 434.63Z" class="o"/>
<text x="175.2" y="454.62" text-anchor="end" class="t">0. 8</text>
<path d="M167.65 454.62L167.65 447.32L166.93 447.32L166.64 447.94L166.25 448.33L165.71 448.77L164.97 449.12L164.97 449.99L165.5 449.76L166.05 449.44L166.43 449.21L166.76 448.9L166.76 454.62Z" class="o"/>
<text x="175.2" y="474.6" text-anchor="end" class="t">0. 7</text>
<path d="M167.65 474.6L167.65 467.3L166.93 467.3L166.64 467.93L166.25 468.31L165.71 468.76L164.97 469.11L164.97 469.97L165.5 469.74L166.05 469.42L166.43 469.2L166.76 468.89L166.76 474.6Z" class="o"/>
<text x="0" y="0" transform="translate(151.94 411.45) rotate(-90)" text-anchor="middle" class="t">v__CH_N2.rte</text>
<text x="0" y="2.6" transform="translate(192.21 495.86) rotate(-55)" text-anchor="middle" class="t">CLHS</text>
<text x="0" y="2.6" transform="translate(215.04 495.63) rotate(-55)" text-anchor="middle" class="t">ELHS</text>
<text x="0" y="2.6" transform="translate(237.86 495.63) rotate(-55)" text-anchor="middle" class="t">CLES</text>
<text x="0" y="2.6" transform="translate(260.69 495.4) rotate(-55)" text-anchor="middle" class="t">ELES</text>
<rect x="313.1" y="345.5" width="94.8" height="130.5" fill="#EAEAF2"/>
<line x1="313.1" x2="407.9" y1="355.4" y2="355.4" stroke="#fff" stroke-width="1.0"/>
<line x1="313.1" x2="407.9" y1="373.63" y2="373.63" stroke="#fff" stroke-width="1.0"/>
<line x1="313.1" x2="407.9" y1="391.87" y2="391.87" stroke="#fff" stroke-width="1.0"/>
<line x1="313.1" x2="407.9" y1="410.1" y2="410.1" stroke="#fff" stroke-width="1.0"/>
<line x1="313.1" x2="407.9" y1="428.33" y2="428.33" stroke="#fff" stroke-width="1.0"/>
<line x1="313.1" x2="407.9" y1="446.57" y2="446.57" stroke="#fff" stroke-width="1.0"/>
<line x1="313.1" x2="407.9" y1="464.8" y2="464.8" stroke="#fff" stroke-width="1.0"/>
<g stroke="#595959" stroke-width="1.35" fill="none"><line x1="324.95" x2="324.95" y1="351.3" y2="383.6"/><line x1="324.95" x2="324.95" y1="441.5" y2="469.4"/><line x1="320.21" x2="329.69" y1="351.3" y2="351.3"/><line x1="320.21" x2="329.69" y1="469.4" y2="469.4"/><rect x="315.47" y="383.6" width="18.96" height="57.9" fill="#aeccdb"/><line x1="315.47" x2="334.43" y1="416.6" y2="416.6"/></g>
<g stroke="#595959" stroke-width="1.35" fill="none"><line x1="348.65" x2="348.65" y1="351.3" y2="377.2"/><line x1="348.65" x2="348.65" y1="443.5" y2="469.4"/><line x1="343.91" x2="353.39" y1="351.3" y2="351.3"/><line x1="343.91" x2="353.39" y1="469.4" y2="469.4"/><rect x="339.17" y="377.2" width="18.96" height="66.3" fill="#b3d495"/><line x1="339.17" x2="358.13" y1="411.5" y2="411.5"/></g>
<g stroke="#595959" stroke-width="1.35" fill="none"><line x1="372.35" x2="372.35" y1="350.8" y2="382.3"/><line x1="372.35" x2="372.35" y1="443.5" y2="470.2"/><line x1="367.61" x2="377.09" y1="350.8" y2="350.8"/><line x1="367.61" x2="377.09" y1="470.2" y2="470.2"/><rect x="362.87" y="382.3" width="18.96" height="61.2" fill="#ebbd81"/><line x1="362.87" x2="381.83" y1="413.5" y2="413.5"/></g>
<g stroke="#595959" stroke-width="1.35" fill="none"><line x1="396.05" x2="396.05" y1="350.8" y2="386.1"/><line x1="396.05" x2="396.05" y1="446" y2="470.2"/><line x1="391.31" x2="400.79" y1="350.8" y2="350.8"/><line x1="391.31" x2="400.79" y1="470.2" y2="470.2"/><rect x="386.57" y="386.1" width="18.96" height="59.9" fill="#df7f20"/><line x1="386.57" x2="405.53" y1="419.9" y2="419.9"/></g>
<text x="307.5" y="359.4" text-anchor="end" class="t">280</text>
<text x="307.5" y="377.63" text-anchor="end" class="t">260</text>
<text x="307.5" y="395.87" text-anchor="end" class="t">240</text>
<text x="307.5" y="414.1" text-anchor="end" class="t">220</text>
<text x="307.5" y="432.33" text-anchor="end" class="t">200</text>
<text x="307.5" y="450.57" text-anchor="end" class="t"> 80</text>
<path d="M294.28 450.57L294.28 443.27L293.55 443.27L293.27 443.89L292.88 444.28L292.33 444.72L291.59 445.07L291.59 445.94L292.13 445.71L292.67 445.39L293.06 445.16L293.39 444.85L293.39 450.57Z" class="o"/>
<text x="307.5" y="468.8" text-anchor="end" class="t"> 60</text>
<path d="M294.28 468.8L294.28 461.5L293.55 461.5L293.27 462.13L292.88 462.51L292.33 462.96L291.59 463.31L291.59 464.17L292.13 463.94L292.67 463.62L293.06 463.4L293.39 463.09L293.39 468.8Z" class="o"/>
<text x="0" y="0" transform="translate(287.64 411.45) rotate(-90)" text-anchor="middle" class="t">v__CH_K2.rte</text>
<text x="0" y="2.6" transform="translate(324.95 495.86) rotate(-55)" text-anchor="middle" class="t">CLHS</text>
<text x="0" y="2.6" transform="translate(348.65 495.63) rotate(-55)" text-anchor="middle" class="t">ELHS</text>
<text x="0" y="2.6" transform="translate(372.35 495.63) rotate(-55)" text-anchor="middle" class="t">CLES</text>
<text x="0" y="2.6" transform="translate(396.05 495.4) rotate(-55)" text-anchor="middle" class="t">ELES</text>
</g></svg>
</div></body></html>
